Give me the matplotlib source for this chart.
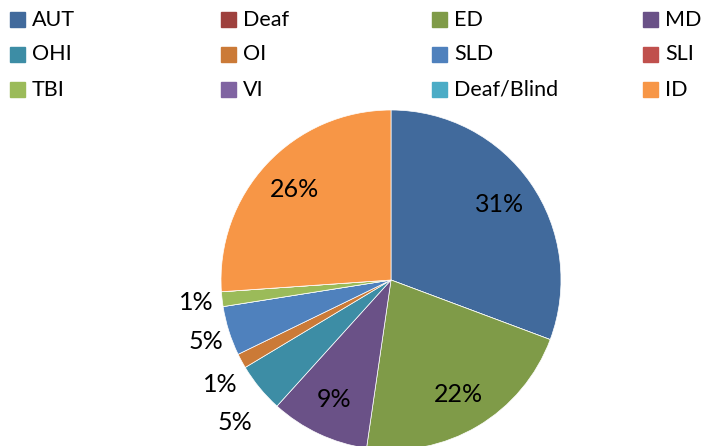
#!/usr/bin/env python
# -*- coding:utf-8 -*-
import numpy as np
import matplotlib
matplotlib.use("Agg")
import matplotlib.pyplot as plt
from matplotlib.patches import Rectangle

# 各类别及其占比
categories = ['AUT', 'Deaf', 'ED', 'MD', 'OHI', 'OI',
              'SLD', 'SLI', 'TBI', 'VI', 'Deaf/Blind', 'ID']
shares = [30.7, 0.0, 21.6, 9.4, 4.7, 1.4, 4.7, 0.0, 1.4, 0.0, 0.0, 26.1]
colors = ['#416A9C', '#9E413E', '#7F9B48', '#6A5187', '#3D8DA5', '#CB7A37',
          '#4F81BD', '#C0504D', '#9BBB59', '#8064A2', '#4BACC6', '#F79646']

# 外侧标签的位置：(半径倍数, 角度偏移)
outside = {'OHI': (1.24, 3), 'OI': (1.18, 3), 'SLD': (1.145, 1), 'TBI': (1.15, 0)}

plt.rcParams['font.family'] = ['Lato', 'DejaVu Sans']

W, H = 705, 446
fig = plt.figure(figsize=(W / 100, H / 100), dpi=100)

# 饼图位置（像素）：圆心 (391, 280)，半径 170
cx, cy, r = 391, 280, 170
ax = fig.add_axes([(cx - r) / W, (H - cy - r) / H, 2 * r / W, 2 * r / H])


def fmt(p):
    return '%d%%' % round(p) if p > 0.5 else ''


wedges, texts, autotexts = ax.pie(
    shares, colors=colors, startangle=90, counterclock=False,
    autopct=fmt, pctdistance=0.78,
    wedgeprops=dict(edgecolor='white', linewidth=0.5),
    textprops=dict(fontsize=18, color='black'))
ax.set_xlim(-1, 1)
ax.set_ylim(-1, 1)

# 小扇区的标签放在饼图外侧
for w, t, name in zip(wedges, autotexts, categories):
    if name in outside:
        d, shift = outside[name]
        ang = np.deg2rad((w.theta1 + w.theta2) / 2 + shift)
        t.set_position((d * np.cos(ang), d * np.sin(ang)))

# 图例：3 行 4 列，列宽一致
for i, (name, c) in enumerate(zip(categories, colors)):
    col, row = i % 4, i // 4
    x = 10 + 211 * col
    y = 19.5 + 35 * row
    fig.add_artist(Rectangle((x / W, 1 - (y + 7.5) / H), 15 / W, 15 / H,
                             transform=fig.transFigure, color=c))
    fig.text((x + 22) / W, 1 - y / H, name, fontsize=15.5,
             va='center', ha='left')

fig.savefig('out.png', dpi=100)
